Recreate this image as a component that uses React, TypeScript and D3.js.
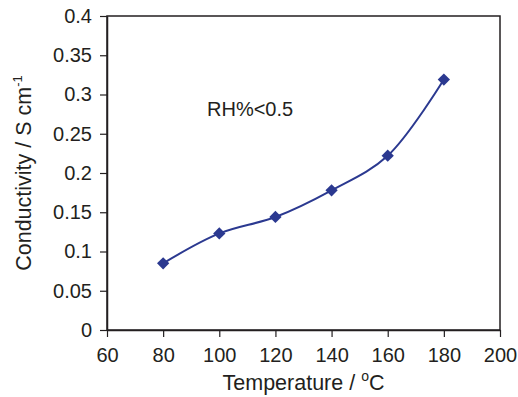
import { useEffect, useRef } from 'react'
import * as d3 from 'd3'

const temperatures = [80, 100, 120, 140, 160, 180]
const conductivity = [0.085, 0.123, 0.144, 0.178, 0.222, 0.319]
const xTicks = [60, 80, 100, 120, 140, 160, 180, 200]
const yTicks = [0, 0.05, 0.1, 0.15, 0.2, 0.25, 0.3, 0.35, 0.4]

const W = 518
const H = 397
const margin = { left: 107, right: 18, top: 16, bottom: 67 }
const FONT = '"Liberation Sans", Arial, sans-serif'
const INK = '#231f20'
const BLUE = '#2b3990'

export default function App() {
  const svgRef = useRef<SVGSVGElement>(null)

  useEffect(() => {
    if (!svgRef.current) return
    const svg = d3.select(svgRef.current)
    svg.selectAll('*').remove()

    const x = d3.scaleLinear().domain([60, 200]).range([margin.left, W - margin.right])
    const y = d3.scaleLinear().domain([0, 0.4]).range([H - margin.bottom, margin.top])

    // frame
    svg.append('rect')
      .attr('x', x(60)).attr('y', y(0.4))
      .attr('width', x(200) - x(60)).attr('height', y(0) - y(0.4))
      .attr('fill', 'none').attr('stroke', INK).attr('stroke-width', 1.5)

    const xAxis = svg.append('g')
      .attr('transform', `translate(0,${y(0)})`)
      .call(d3.axisBottom(x).tickValues(xTicks).tickSize(7).tickSizeOuter(0).tickPadding(11).tickFormat(d3.format('d')))
    const yAxis = svg.append('g')
      .attr('transform', `translate(${x(60)},0)`)
      .call(d3.axisLeft(y).tickValues(yTicks).tickSize(7).tickSizeOuter(0).tickPadding(8).tickFormat((d: any) => String(+d)))

    for (const ax of [xAxis, yAxis]) {
      ax.select('.domain').attr('stroke', INK).attr('stroke-width', 1.5)
      ax.selectAll('.tick line').attr('stroke', INK).attr('stroke-width', 1.2)
      ax.selectAll('.tick text')
        .attr('fill', INK)
        .style('font-family', FONT)
        .style('font-size', '20px')
    }

    const line = d3.line<number>()
      .x((d, i) => x(temperatures[i]))
      .y(d => y(d))
      .curve(d3.curveCatmullRom.alpha(0.5))

    svg.append('path')
      .datum(conductivity)
      .attr('d', line)
      .attr('fill', 'none')
      .attr('stroke', BLUE)
      .attr('stroke-width', 2)

    const diamond = d3.symbol().type(d3.symbolDiamond2).size(96)
    svg.selectAll('path.pt')
      .data(conductivity)
      .enter()
      .append('path')
      .attr('class', 'pt')
      .attr('d', diamond as any)
      .attr('transform', (d, i) => `translate(${x(temperatures[i])},${y(d)})`)
      .attr('fill', BLUE)

    // annotation
    svg.append('text')
      .attr('x', 207).attr('y', 116)
      .style('font-family', FONT).style('font-size', '20px')
      .attr('fill', INK)
      .text('RH%<0.5')

    // x title
    const xt = svg.append('text')
      .attr('x', (x(60) + x(200)) / 2).attr('y', 390)
      .attr('text-anchor', 'middle')
      .style('font-family', FONT).style('font-size', '21.5px')
      .attr('fill', INK)
    xt.append('tspan').text('Temperature / ')
    xt.append('tspan').attr('dy', -9).style('font-size', '14px').text('o')
    xt.append('tspan').attr('dy', 9).text('C')

    // y title
    const yt = svg.append('text')
      .attr('transform', `translate(31,${(y(0) + y(0.4)) / 2}) rotate(-90)`)
      .attr('text-anchor', 'middle')
      .style('font-family', FONT).style('font-size', '21.5px')
      .attr('fill', INK)
    yt.append('tspan').text('Conductivity / S cm')
    yt.append('tspan').attr('dy', -9).style('font-size', '13px').text('-1')
  }, [])

  return <svg ref={svgRef} width={W} height={H} style={{ position: 'absolute', left: 0, top: 0, background: '#fff' }} />
}
